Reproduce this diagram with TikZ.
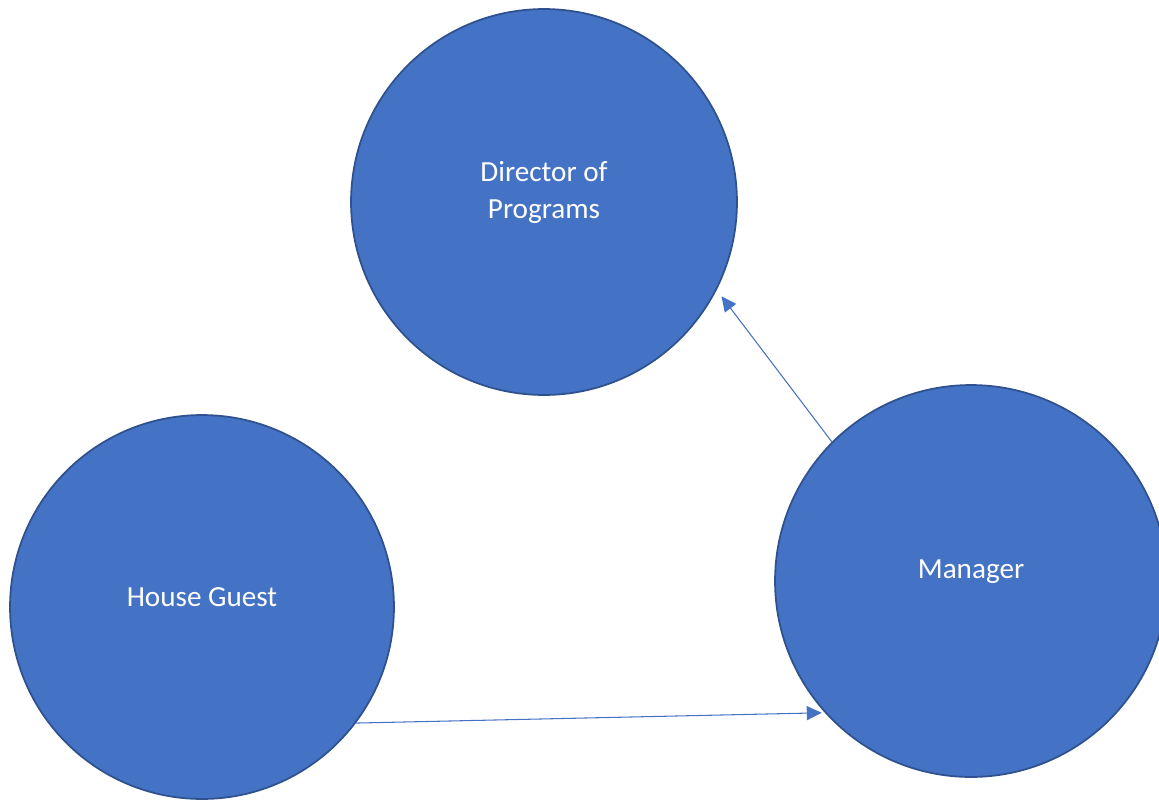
\documentclass[tikz,border=0pt]{standalone}
\usepackage{fontspec}
\setmainfont{Carlito}
\usetikzlibrary{arrows.meta}
\definecolor{bubblefill}{HTML}{4472C4}
\definecolor{bubbleline}{HTML}{2F528F}
\tikzset{
	bubble/.style={circle, fill=bubblefill, draw=bubbleline, line width=1pt, inner sep=0pt},
	bubbletext/.style={text=white, align=center, font=\fontsize{16.6}{21.5}\selectfont, yshift=5.4pt},
	link/.style={-{Triangle[length=8.5pt,width=8pt]}, draw=bubblefill, line width=0.6pt}
}
\begin{document}
\begin{tikzpicture}[x=0.02cm, y=-0.02cm]
		\useasboundingbox (0,0) rectangle (1159,799);
		\node[bubble, minimum size=7.72cm] (dir) at (544,202) {};
		\node[bubble, minimum size=7.68cm] (guest) at (202,607) {};
		\node[bubble, minimum size=7.84cm] (mgr) at (971,581) {};
		\node[bubbletext] at (dir.center) {Director of\\Programs};
		\node[bubbletext] at (guest.center) {House Guest};
		\node[bubbletext] at (mgr.center) {Manager};
		\draw[link, shorten >=4.5pt] (mgr.135.6) -- (dir.-27.6);
		\draw[link, shorten >=1.7pt] (guest.-37) -- (mgr.222.5);
		\end{tikzpicture}
\end{document}
